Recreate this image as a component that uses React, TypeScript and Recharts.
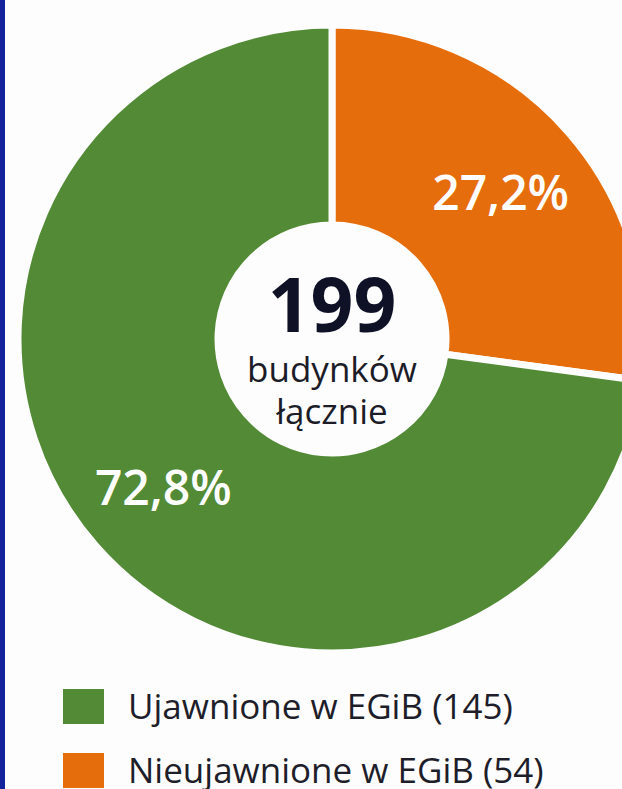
import { PieChart, Pie, Cell } from "recharts";

const categories = ["Nieujawnione w EGiB", "Ujawnione w EGiB"];
const values = [54, 145];
const percentLabels = ["27,2%", "72,8%"];
const colors = ["#E66D0C", "#528A35"];
const legendOrder = [1, 0];
const total = 199;

const data = categories.map((name, i) => ({ name, value: values[i] }));

const RADIAN = Math.PI / 180;
const FONT = "'Open Sans', 'Noto Sans', sans-serif";

function renderLabel(props: any) {
  const { cx, cy, midAngle, index } = props;
  const r = 224;
  const x = cx + r * Math.cos(-midAngle * RADIAN);
  const y = cy + r * Math.sin(-midAngle * RADIAN);
  return (
    <text x={x} y={y} fill="#fff" textAnchor="middle" dominantBaseline="central" fontFamily={FONT} fontSize={48} fontWeight={600}>
      {percentLabels[index]}
    </text>
  );
}

export default function App() {
  return (
    <div style={{ position: "absolute", left: 0, top: 0, width: 622, height: 789, overflow: "hidden", background: "#fdfdfd", fontFamily: FONT }}>
      <div style={{ position: "absolute", left: 0, top: 0, width: 5, height: 789, background: "#12239c" }} />
      <PieChart width={680} height={680} margin={{ top: 0, right: 0, bottom: 0, left: 0 }} style={{ position: "absolute", left: 0, top: 0 }}>
        <Pie
          data={data}
          dataKey="value"
          cx={332}
          cy={339}
          innerRadius={114}
          outerRadius={314}
          startAngle={90}
          endAngle={-270}
          stroke="#fdfdfd"
          strokeWidth={7}
          label={renderLabel}
          labelLine={false}
          isAnimationActive={false}
        >
          {data.map((d, i) => (
            <Cell key={d.name} fill={colors[i]} />
          ))}
        </Pie>
      </PieChart>
      <div style={{ position: "absolute", left: 232, top: 264, width: 200, textAlign: "center", color: "#0f1226" }}>
        <div style={{ fontSize: 75, fontWeight: 700, lineHeight: "78px" }}>{total}</div>
        <div style={{ fontSize: 35, lineHeight: "42px", marginTop: 6, color: "#1c1c28" }}>budynków</div>
        <div style={{ fontSize: 35, lineHeight: "42px", color: "#1c1c28" }}>łącznie</div>
      </div>
      <div style={{ position: "absolute", left: 63, top: 674 }}>
        {legendOrder.map((i) => (
          <div key={categories[i]} style={{ display: "flex", alignItems: "center", height: 64 }}>
            <div style={{ width: 41, height: 35, background: colors[i], marginRight: 24 }} />
            <span style={{ fontSize: 35, lineHeight: "44px", color: "#1e1e2a" }}>
              {categories[i]} ({values[i]})
            </span>
          </div>
        ))}
      </div>
    </div>
  );
}
